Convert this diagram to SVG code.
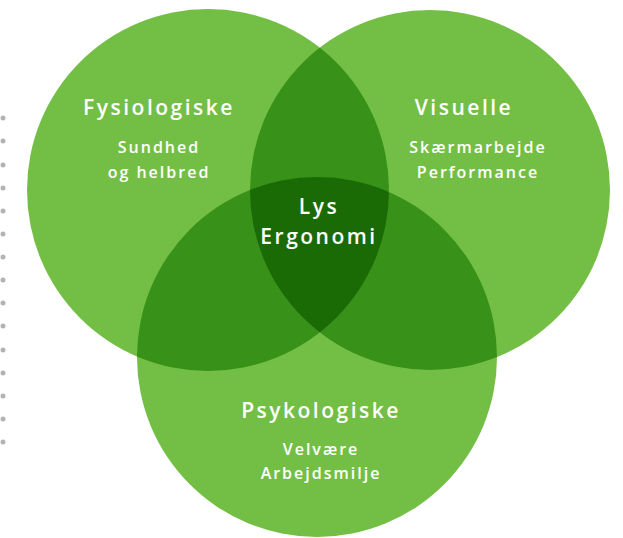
<svg xmlns="http://www.w3.org/2000/svg" width="623" height="538" viewBox="0 0 623 538">
<style>
.light{fill:#73bf45}
.dbl{fill:#389118}
.tri{fill:#1a6b06}
.dot{fill:#b3b3b3}
text{font-family:"Open Sans","DejaVu Sans",sans-serif;fill:#ffffff;text-anchor:middle}
.title{font-size:21px;font-weight:600;letter-spacing:2.5px}
.sub{font-size:16px;font-weight:600;letter-spacing:2px}
</style>
<defs>
<clipPath id="cL"><circle cx="208" cy="190" r="181"/></clipPath>
<clipPath id="cR"><circle cx="430" cy="190" r="180"/></clipPath>
<clipPath id="cB"><circle cx="317" cy="357" r="180"/></clipPath>
</defs>
<rect width="623" height="538" fill="#ffffff"/>
<g id="dots">
<circle class="dot" cx="3" cy="118" r="2.5"/>
<circle class="dot" cx="3" cy="141" r="2.5"/>
<circle class="dot" cx="3" cy="165" r="2.5"/>
<circle class="dot" cx="3" cy="188" r="2.5"/>
<circle class="dot" cx="3" cy="211" r="2.5"/>
<circle class="dot" cx="3" cy="234" r="2.5"/>
<circle class="dot" cx="3" cy="257" r="2.5"/>
<circle class="dot" cx="3" cy="280" r="2.5"/>
<circle class="dot" cx="3" cy="303" r="2.5"/>
<circle class="dot" cx="3" cy="326" r="2.5"/>
<circle class="dot" cx="3" cy="350" r="2.5"/>
<circle class="dot" cx="3" cy="373" r="2.5"/>
<circle class="dot" cx="3" cy="396" r="2.5"/>
<circle class="dot" cx="3" cy="419" r="2.5"/>
<circle class="dot" cx="3" cy="442" r="2.5"/>
</g>
<g id="fysiologiske">
<circle class="light" cx="208" cy="190" r="181"/>
</g>
<g id="visuelle">
<circle class="light" cx="430" cy="190" r="180"/>
</g>
<g id="psykologiske">
<circle class="light" cx="317" cy="357" r="180"/>
</g>
<g id="overlaps">
<g clip-path="url(#cL)"><circle class="dbl" cx="430" cy="190" r="180"/><circle class="dbl" cx="317" cy="357" r="180"/></g>
<g clip-path="url(#cR)"><circle class="dbl" cx="317" cy="357" r="180"/></g>
</g>
<g id="lys-ergonomi">
<g clip-path="url(#cL)"><g clip-path="url(#cR)"><circle class="tri" cx="317" cy="357" r="180"/></g></g>
<text class="title" x="319" y="214">Lys</text>
<text class="title" x="319" y="244">Ergonomi</text>
</g>
<g id="labels">
<text class="title" x="159" y="115">Fysiologiske</text>
<text class="sub" x="159" y="153">Sundhed</text>
<text class="sub" x="159" y="178">og helbred</text>
<text class="title" x="464" y="115">Visuelle</text>
<text class="sub" x="478" y="153">Skærmarbejde</text>
<text class="sub" x="478" y="178">Performance</text>
<text class="title" x="321" y="418">Psykologiske</text>
<text class="sub" x="321" y="455">Velvære</text>
<text class="sub" x="321" y="479">Arbejdsmilje</text>
</g>
</svg>
